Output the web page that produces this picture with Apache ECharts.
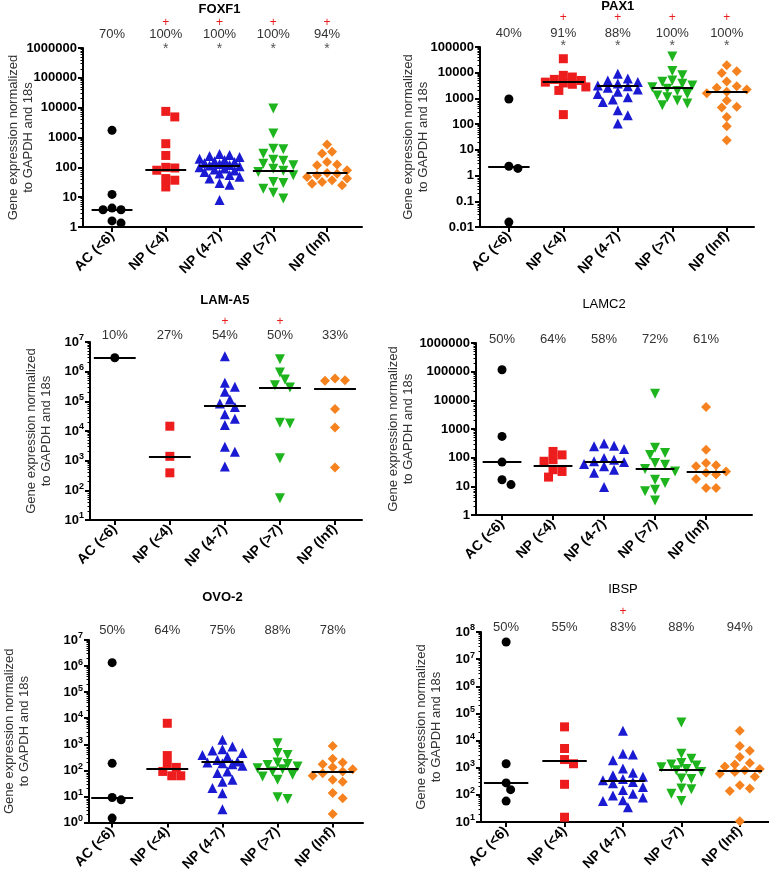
<!DOCTYPE html>
<html><head><meta charset="utf-8">
<script src="https://cdn.jsdelivr.net/npm/echarts@6/dist/echarts.min.js"></script>
<style>html,body{margin:0;padding:0;background:#fff}#c{width:769px;height:874px}</style>
</head><body><div id="c"></div>
<script>
// ---------------- DATA ----------------
const categories = ['AC (<6)', 'NP (<4)', 'NP (4-7)', 'NP (>7)', 'NP (Inf)'];
const geneNames = ['FOXF1', 'PAX1', 'LAM-A5', 'LAMC2', 'OVO-2', 'IBSP'];
const yAxisName = 'Gene expression normalized\nto GAPDH and 18s';

// FOXF1
const foxf1Values = [
  [1740, 12.4, 3.8, 3.8, 4.3, 1.35, 1.6],
  [7500, 4900, 620, 250, 100, 95, 80, 42, 37, 22],
  [280, 260, 240, 220, 195, 175, 160, 150, 140, 130, 120, 115, 108, 100, 92, 85, 78, 70, 62, 55, 48, 42, 30, 26, 8],
  [9300, 1350, 420, 400, 285, 180, 165, 132, 117, 90, 77, 70, 54, 32, 30, 19, 14, 9],
  [585, 330, 290, 150, 125, 117, 80, 65, 61, 54, 47, 42, 37, 32, 28, 25]
];
const foxf1Medians = [3.8, 83, 114, 77, 65];
const foxf1Pct = ['70%', '100%', '100%', '100%', '94%'];
const foxf1Plus = [0, 1, 1, 1, 1];
const foxf1Star = [0, 1, 1, 1, 1];
const foxf1Range = [1, 1e6];

// PAX1
const pax1Values = [
  [950, 2.3, 1.9, 0.0155],
  [35000, 7900, 6800, 5500, 5000, 4300, 4000, 3550, 2800, 2050, 235],
  [9100, 5900, 5000, 4400, 3800, 3200, 3000, 2600, 2200, 1800, 1500, 1100, 900, 720, 350, 220, 105],
  [43000, 11700, 8000, 5000, 4500, 3700, 3200, 2750, 2400, 1950, 1500, 1300, 1120, 840, 630, 540],
  [19500, 11300, 9800, 4600, 2950, 2600, 2200, 1800, 1600, 840, 470, 440, 190, 82, 23.5]
];
const pax1Medians = [2.2, 4300, 3000, 2500, 1800];
const pax1Pct = ['40%', '91%', '88%', '100%', '100%'];
const pax1Plus = [0, 1, 1, 1, 1];
const pax1Star = [0, 1, 1, 1, 1];
const pax1Range = [0.01, 1e5];

// LAM-A5
const lama5Values = [
  [2.95e6],
  [14500, 1400, 390],
  [3.3e6, 4.2e5, 3.1e5, 2.1e5, 1.15e5, 8.5e4, 6.5e4, 3.7e4, 2.6e4, 1.6e4, 2950, 2000, 630],
  [2.6e6, 9.4e5, 5.4e5, 3.5e5, 2.9e5, 1.9e4, 1.8e4, 1200, 54],
  [5.9e5, 5.1e5, 4.9e5, 5.5e4, 1.3e4, 590]
];
const lama5Medians = [2.95e6, 1400, 6.9e4, 2.9e5, 2.7e5];
const lama5Pct = ['10%', '27%', '54%', '50%', '33%'];
const lama5Plus = [0, 0, 1, 1, 0];
const lama5Star = [0, 0, 0, 0, 0];
const lama5Range = [10, 1e7];

// LAMC2
const lamc2Values = [
  [1.17e5, 550, 70, 17, 11.5],
  [165, 125, 85, 75, 38, 33, 21],
  [310, 260, 250, 200, 97, 85, 75, 70, 60, 50, 38, 30, 9.5],
  [1.7e4, 220, 145, 125, 65, 57, 40, 33, 17, 13, 7.6, 6.7, 3.2],
  [5900, 190, 65, 54, 50, 33, 30, 26, 18, 8.7, 8.7]
];
const lamc2Medians = [70, 52, 72, 40, 32];
const lamc2Pct = ['50%', '64%', '58%', '72%', '61%'];
const lamc2Plus = [0, 0, 0, 0, 0];
const lamc2Star = [0, 0, 0, 0, 0];
const lamc2Range = [1, 1e6];

// OVO-2
const ovo2Values = [
  [1.35e6, 186, 9.1, 7.4, 1.48],
  [6400, 370, 174, 130, 91, 62, 62],
  [1480, 820, 650, 580, 460, 390, 330, 250, 220, 200, 187, 170, 150, 91, 80, 44, 37, 21, 13.4, 3.2],
  [1100, 460, 390, 200, 177, 162, 141, 121, 110, 91, 68, 58, 44, 9.3, 7.9],
  [870, 280, 200, 170, 131, 110, 91, 78, 62, 44, 37, 13.5, 8.5, 2.1]
];
const ovo2Medians = [9.3, 120, 205, 115, 85];
const ovo2Pct = ['50%', '64%', '75%', '88%', '78%'];
const ovo2Plus = [0, 0, 0, 0, 0];
const ovo2Star = [0, 0, 0, 0, 0];
const ovo2Range = [1, 1e7];

// IBSP
const ibspValues = [
  [4.3e7, 1400, 275, 155, 59],
  [3.2e4, 5100, 2000, 1400, 245, 15],
  [2.3e4, 3300, 3100, 1900, 930, 650, 530, 460, 380, 345, 300, 270, 195, 150, 110, 95, 80, 63, 60, 35],
  [4.6e4, 3300, 2150, 1500, 1300, 1200, 1050, 900, 800, 700, 400, 380, 170, 160, 110, 59],
  [2.3e4, 6300, 4200, 2500, 1500, 1300, 1100, 900, 800, 700, 600, 460, 225, 170, 140, 10.7]
];
const ibspMedians = [275, 1800, 320, 820, 780];
const ibspPct = ['50%', '55%', '83%', '88%', '94%'];
const ibspPlus = [0, 0, 1, 0, 0];
const ibspStar = [0, 0, 0, 0, 0];
const ibspRange = [10, 1e8];

// ---------------- LAYOUT / STYLE ----------------
const FONT = 'Arial, "Liberation Sans", Helvetica, sans-serif';
const panels = [
  {values: foxf1Values, medians: foxf1Medians, pct: foxf1Pct, plus: foxf1Plus, star: foxf1Star, range: foxf1Range,
   sup: false, bold: true, left: 83, top: 48, width: 279, height: 179, xmin: -0.54, xmax: 4.65, nameGap: 47,
   titleY: 9, plusDy: -25, pctDy: -14, starDy: 1},
  {values: pax1Values, medians: pax1Medians, pct: pax1Pct, plus: pax1Plus, star: pax1Star, range: pax1Range,
   sup: false, bold: true, left: 480, top: 47, width: 274, height: 180, xmin: -0.53, xmax: 4.5, nameGap: 49,
   titleY: 6, plusDy: -29, pctDy: -14, starDy: -1},
  {values: lama5Values, medians: lama5Medians, pct: lama5Pct, plus: lama5Plus, star: lama5Star, range: lama5Range,
   sup: true, bold: true, left: 90, top: 342, width: 272, height: 178, xmin: -0.45, xmax: 4.49, nameGap: 36,
   titleY: 300, plusDy: -20, pctDy: -7, starDy: 0},
  {values: lamc2Values, medians: lamc2Medians, pct: lamc2Pct, plus: lamc2Plus, star: lamc2Star, range: lamc2Range,
   sup: false, bold: false, left: 476, top: 343, width: 276, height: 172, xmin: -0.51, xmax: 4.9, nameGap: 60,
   titleY: 304, plusDy: -20, pctDy: -4, starDy: 0},
  {values: ovo2Values, medians: ovo2Medians, pct: ovo2Pct, plus: ovo2Plus, star: ovo2Star, range: ovo2Range,
   sup: true, bold: true, left: 89, top: 640, width: 274, height: 183, xmin: -0.42, xmax: 4.55, nameGap: 57,
   titleY: 597, plusDy: -20, pctDy: -10, starDy: 0},
  {values: ibspValues, medians: ibspMedians, pct: ibspPct, plus: ibspPlus, star: ibspStar, range: ibspRange,
   sup: true, bold: false, left: 481, top: 632, width: 288, height: 190, xmin: -0.43, xmax: 4.5, nameGap: 37,
   titleY: 589, plusDy: -20, pctDy: -5, starDy: 0}
];
const groupStyles = [
  {symbol: 'circle', color: '#000000', size: 9, rotate: 0},
  {symbol: 'rect', color: '#ee1d1d', size: 9, rotate: 0},
  {symbol: 'triangle', color: '#1a1ad2', size: 10, rotate: 0},
  {symbol: 'triangle', color: '#1db41d', size: 10, rotate: 180},
  {symbol: 'diamond', color: '#f5821f', size: 10, rotate: 0}
];

// compact beeswarm in pixel space (bounded width, overlap allowed), returns [x, value] pairs
function swarm(vals, gi, p) {
  const lmin = Math.log10(p.range[0]);
  const span = Math.log10(p.range[1]) - lmin;
  const unitPx = p.width / (p.xmax - p.xmin);
  const size = groupStyles[gi].size;
  const minD = size * 0.85;
  const step = size * 0.5;
  const maxOff = 0.42 * unitPx;
  const pts = vals.map(v => ({v, py: (Math.log10(v) - lmin) / span * p.height, px: 0}));
  const order = pts.slice().sort((a, b) => b.py - a.py);
  const placed = [];
  order.forEach(pt => {
    let best = null, bestD = -1;
    for (let k = 0; k < 40; k++) {
      const off = k === 0 ? 0 : (k % 2 ? 1 : -1) * Math.ceil(k / 2) * step;
      if (Math.abs(off) > maxOff) break;
      let d = Infinity;
      placed.forEach(q => { d = Math.min(d, Math.hypot(q.px - off, q.py - pt.py)); });
      if (d >= minD) { best = off; bestD = d; break; }
      if (d > bestD + 0.5) { bestD = d; best = off; }
    }
    pt.px = best === null ? 0 : best;
    placed.push(pt);
  });
  return pts.map(pt => [gi + pt.px / unitPx, pt.v]);
}

function yFmt(sup) {
  return function (v) {
    const e = Math.round(Math.log10(v));
    if (sup) return '{b|10}{s|' + e + '}';
    if (e >= 0) return String(Math.round(Math.pow(10, e)));
    return Math.pow(10, e).toFixed(-e);
  };
}

const option = {
  animation: false,
  backgroundColor: '#ffffff',
  grid: panels.map(p => ({left: p.left, top: p.top, width: p.width, height: p.height})),
  xAxis: panels.map((p, i) => ({
    type: 'value', gridIndex: i, min: p.xmin, max: p.xmax,
    axisLine: {show: true, onZero: false, lineStyle: {color: '#000', width: 2}},
    axisTick: {show: true, customValues: [0, 1, 2, 3, 4], length: 5, lineStyle: {color: '#000', width: 2}},
    axisLabel: {customValues: [0, 1, 2, 3, 4], formatter: v => categories[Math.round(v)] || '',
      rotate: 45, margin: 7, color: '#000', fontWeight: 'bold', fontSize: 14, fontFamily: FONT},
    splitLine: {show: false}
  })),
  yAxis: panels.map((p, i) => ({
    type: 'log', logBase: 10, gridIndex: i, min: p.range[0], max: p.range[1],
    axisLine: {show: true, onZero: false, lineStyle: {color: '#000', width: 2}},
    axisTick: {show: true, length: 5, lineStyle: {color: '#000', width: 2}},
    minorTick: {show: true, splitNumber: 9, length: 2.5, lineStyle: {color: '#000', width: 1}},
    axisLabel: {formatter: yFmt(p.sup), margin: 6, color: '#000', fontWeight: 'bold', fontSize: 13, fontFamily: FONT,
      rich: {b: {fontSize: 13, fontWeight: 'bold', color: '#000', fontFamily: FONT},
             s: {fontSize: 9, fontWeight: 'bold', color: '#000', fontFamily: FONT, padding: [0, 0, 8, 0]}}},
    splitLine: {show: false},
    name: yAxisName, nameLocation: 'middle', nameRotate: 90, nameGap: p.nameGap, nameMoveOverlap: false,
    nameTextStyle: {fontSize: 13, color: '#333', fontFamily: FONT, lineHeight: 15}
  })),
  series: []
};

panels.forEach((p, pi) => {
  p.values.forEach((vals, gi) => {
    const st = groupStyles[gi];
    option.series.push({
      type: 'scatter', xAxisIndex: pi, yAxisIndex: pi,
      symbol: st.symbol, symbolSize: st.size, symbolRotate: st.rotate,
      itemStyle: {color: st.color, opacity: 1},
      data: swarm(vals, gi, p), z: 2, silent: true
    });
  });
  option.series.push({
    type: 'lines', coordinateSystem: 'cartesian2d', xAxisIndex: pi, yAxisIndex: pi,
    polyline: false, silent: true, z: 5,
    lineStyle: {color: '#000', width: 2, opacity: 1},
    data: p.medians.map((m, i) => ({coords: [[i - 0.38, m], [i + 0.38, m]]}))
  });
});

const chart = echarts.init(document.getElementById('c'), null, {renderer: 'canvas'});
chart.setOption(option);

// annotations (titles, percentages, + and *) placed through the axes
const graphics = [];
panels.forEach((p, pi) => {
  const finder = {xAxisIndex: pi, yAxisIndex: pi};
  const mid = chart.convertToPixel(finder, [2, p.range[1]]);
  graphics.push({type: 'text', x: mid[0], y: p.titleY, silent: true,
    style: {text: geneNames[pi], fill: '#000', fontSize: 13, fontWeight: p.bold ? 'bold' : 'normal',
      fontFamily: FONT, align: 'center', verticalAlign: 'middle'}});
  for (let i = 0; i < 5; i++) {
    const pt = chart.convertToPixel(finder, [i, p.range[1]]);
    graphics.push({type: 'text', x: pt[0], y: pt[1] + p.pctDy, silent: true,
      style: {text: p.pct[i], fill: '#333', fontSize: 13, fontFamily: FONT, align: 'center', verticalAlign: 'middle'}});
    if (p.plus[i]) graphics.push({type: 'text', x: pt[0], y: pt[1] + p.plusDy, silent: true,
      style: {text: '+', fill: '#e81e1e', fontSize: 12, fontFamily: FONT, align: 'center', verticalAlign: 'middle'}});
    if (p.star[i]) graphics.push({type: 'text', x: pt[0], y: pt[1] + p.starDy, silent: true,
      style: {text: '*', fill: '#555', fontSize: 14, fontFamily: FONT, align: 'center', verticalAlign: 'middle'}});
  }
});
chart.setOption({graphic: graphics});
</script>
</body></html>
